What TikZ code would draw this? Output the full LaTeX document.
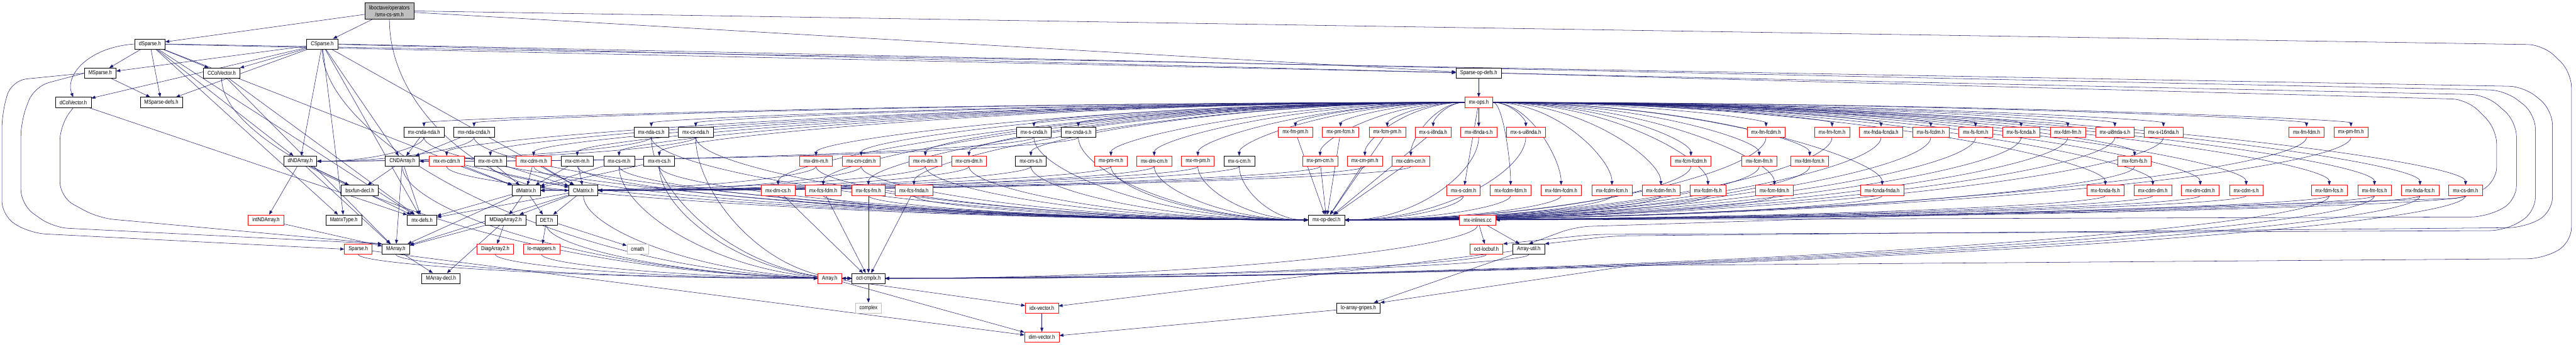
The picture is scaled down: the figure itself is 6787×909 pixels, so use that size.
\documentclass[tikz,border=0pt]{standalone}
\usepackage{fontspec}
\setmainfont[FakeStretch=0.85]{Liberation Sans}
\usetikzlibrary{arrows.meta, calc}
\definecolor{edgeblue}{RGB}{25,25,112}
\definecolor{boxgray}{RGB}{191,191,191}
\pgfdeclarelayer{edges}
\pgfsetlayers{edges,main}

\begin{document}
\begin{tikzpicture}[x=0.02cm, y=-0.02cm,
  hdr/.style={draw=black, line width=0.6pt, fill=white, minimum height=0.54cm,
              inner xsep=0.22cm, inner ysep=0pt, font=\fontsize{8.5}{10}\selectfont},
  trunc/.style={hdr, draw=red},
  sys/.style={hdr, draw=boxgray},
  top/.style={hdr, fill=boxgray, align=center, minimum height=0.88cm},
  dep/.style={-{Triangle[length=6pt,width=4.6pt]}, color=edgeblue, line width=0.5pt},
  detour/.style={dep, rounded corners=0.8cm}
]
  \useasboundingbox (0,0) rectangle (6787,909);

  \node[top] (root) at (1026,29) {liboctave/operators\\/smx-cs-sm.h};

  % fully expanded headers
  \foreach \n/\x/\y/\t in {dSparse/395/116/dSparse.h, CSparse/849/116/CSparse.h,
      MSparse/264/193/MSparse.h, CColVec/584/193/CColVector.h,
      SpOpDefs/3896/193/Sparse-op-defs.h, dColVec/193/270/dColVector.h,
      MSpDefs/425/270/MSparse-defs.h,
      cndanda/1117/348/mx-cnda-nda.h, ndacnda/1249/348/mx-nda-cnda.h,
      ndacs/1716/348/mx-nda-cs.h, csnda/1833/348/mx-cs-nda.h,
      scnda/2724/348/mx-s-cnda.h, cndas/2841/348/mx-cnda-s.h,
      dNDA/791/425/dNDArray.h, CNDA/1060/425/CNDArray.h,
      mcm/1292/425/mx-m-cm.h, cmm/1521/425/mx-cm-m.h, csm/1631/425/mx-cs-m.h,
      mcs/1737/425/mx-m-cs.h, cms/2716/425/mx-cm-s.h, scm/3265/425/mx-s-cm.h,
      bsxfun/948/502/bsxfun-decl.h, dMat/1386/502/dMatrix.h, CMat/1537/502/CMatrix.h,
      MatType/906/580/MatrixType.h, mxdefs/1112/580/mx-defs.h,
      MDiag2/1332/580/MDiagArray2.h, DET/1440/580/DET.h, opdecl/3495/580/mx-op-decl.h,
      MArray/1043/657/MArray.h, ArrUtil/4028/657/Array-util.h,
      MArrDecl/1162/734/MArray-decl.h, cmplx/2288/734/oct-cmplx.h,
      gripes/3579/812/lo-array-gripes.h}
    \node[hdr] (\n) at (\x,\y) {\t};

  % truncated headers
  \foreach \n/\x/\y/\t in {mxops/3896/270/mx-ops.h,
      fmpm/3413/348/mx-fm-pm.h, pmfcm/3532/348/mx-pm-fcm.h, fcmpm/3655/348/mx-fcm-pm.h,
      si8nda/3776/348/mx-s-i8nda.h, i8ndas/3896/348/mx-i8nda-s.h,
      sui8nda/4020/348/mx-s-ui8nda.h, fmfcdm/4653/348/mx-fm-fcdm.h,
      fmfcm/4827/348/mx-fm-fcm.h, fndafcnda/4956/348/mx-fnda-fcnda.h,
      fsfcdm/5087/348/mx-fs-fcdm.h, fsfcm/5205/348/mx-fs-fcm.h,
      fsfcnda/5325/348/mx-fs-fcnda.h, fdmfm/5448/348/mx-fdm-fm.h,
      ui8ndas/5572/348/mx-ui8nda-s.h, si16nda/5700/348/mx-s-i16nda.h,
      fmfdm/6077/348/mx-fm-fdm.h, pmfm/6194/348/mx-pm-fm.h,
      mcdm/1177/425/mx-m-cdm.h, cdmm/1406/425/mx-cdm-m.h, dmm/2150/425/mx-dm-m.h,
      cmcdm/2269/425/mx-cm-cdm.h, mdm/2438/425/mx-m-dm.h, cmdm/2553/425/mx-cm-dm.h,
      pmm/2927/425/mx-pm-m.h, dmcm/3041/425/mx-dm-cm.h, mpm/3156/425/mx-m-pm.h,
      pmcm/3478/425/mx-pm-cm.h, cmpm/3596/425/mx-cm-pm.h, cdmcm/3717/425/mx-cdm-cm.h,
      fcmfcdm/4455/425/mx-fcm-fcdm.h, fcmfm/4635/425/mx-fcm-fm.h,
      fdmfcm/4768/425/mx-fdm-fcm.h, fcmfs/5624/425/mx-fcm-fs.h,
      dmcs/2050/502/mx-dm-cs.h, fcsfdm/2169/502/mx-fcs-fdm.h, fcsfm/2288/502/mx-fcs-fm.h,
      fcsfnda/2408/502/mx-fcs-fnda.h, scdm/3856/502/mx-s-cdm.h,
      fcdmfdm/3980/502/mx-fcdm-fdm.h, fdmfcdm/4113/502/mx-fdm-fcdm.h,
      fcdmfcm/4247/502/mx-fcdm-fcm.h, fcdmfm/4376/502/mx-fcdm-fm.h,
      fcdmfs/4500/502/mx-fcdm-fs.h, fcmfdm/4675/502/mx-fcm-fdm.h,
      fcndafnda/4959/502/mx-fcnda-fnda.h, fcndafs/5547/502/mx-fcnda-fs.h,
      cdmdm/5672/502/mx-cdm-dm.h, dmcdm/5797/502/mx-dm-cdm.h, cdms/5918/502/mx-cdm-s.h,
      fdmfcs/6137/502/mx-fdm-fcs.h, fmfcs/6256/502/mx-fm-fcs.h,
      fndafcs/6376/502/mx-fnda-fcs.h, csdm/6496/502/mx-cs-dm.h,
      intNDA/701/580/intNDArray.h, inlines/3893/580/mx-inlines.cc,
      Sparse/944/657/Sparse.h, Diag2/1305/657/DiagArray2.h, lomap/1427/657/lo-mappers.h,
      locbuf/3916/657/oct-locbuf.h, Array/2186/734/Array.h,
      idxvec/2745/812/idx-vector.h, dimvec/2745/889/dim-vector.h}
    \node[trunc] (\n) at (\x,\y) {\t};

  % system headers
  \node[sys] (cmath) at (1680,657) {cmath};
  \node[sys] (complex) at (2288,812) {complex};

  \begin{pgfonlayer}{edges}
  % mx-ops.h fans out to every operator header
  \foreach \n in {cndanda,ndacnda,ndacs,csnda,scnda,cndas,fmpm,pmfcm,fcmpm,si8nda,
      mcdm,mcm,cdmm,cmm,csm,mcs,dmm,cmcdm,mdm,cmdm,cms,pmm,dmcm,mpm,scm,pmcm,cmpm,
      cdmcm,dmcs,fcsfdm,fcsfm,fcsfnda}
    \draw[dep] (mxops.west) .. controls ($(mxops.west)!0.55!(mxops.west -| \n.north)$)
      and ($(\n.north)!0.3!(\n.north |- mxops.west)$) .. (\n.north);
  \foreach \n in {sui8nda,fmfcdm,fmfcm,fndafcnda,fsfcdm,fsfcm,fsfcnda,fdmfm,ui8ndas,
      si16nda,fmfdm,pmfm,fcmfcdm,fcmfm,fdmfcm,fcmfs,fcdmfdm,fdmfcdm,fcdmfcm,fcdmfm,
      fcdmfs,fcmfdm,fcndafnda,fcndafs,cdmdm,dmcdm,cdms,fdmfcs,fmfcs,fndafcs,csdm}
    \draw[dep] (mxops.east) .. controls ($(mxops.east)!0.55!(mxops.east -| \n.north)$)
      and ($(\n.north)!0.3!(\n.north |- mxops.east)$) .. (\n.north);
  \foreach \n in {i8ndas,scdm}
    \draw[dep] (mxops) -- (\n);

  % every operator header pulls in mx-op-decl.h
  \foreach \n in {cndanda,ndacnda,ndacs,csnda,scnda,cndas,mcdm,mcm,cdmm,cmm,csm,mcs,
      dmm,cmcdm,mdm,cmdm,cms,pmm,dmcm,mpm,scm,dmcs,fcsfdm,fcsfm,fcsfnda}
    \draw[dep] (\n.south) .. controls ($(\n.south)!0.4!(\n.south |- opdecl.west)$)
      and ($(opdecl.west)!0.55!(opdecl.west -| \n.south)$) .. (opdecl.west);
  \foreach \n in {i8ndas,sui8nda,fmfcdm,fmfcm,fndafcnda,fsfcdm,fsfcm,fsfcnda,fdmfm,
      ui8ndas,si16nda,fmfdm,pmfm,fcmfcdm,fcmfm,fdmfcm,fcmfs,scdm,fcdmfdm,fdmfcdm,
      fcdmfcm,fcdmfm,fcdmfs,fcmfdm,fcndafnda,fcndafs,cdmdm,dmcdm,cdms,fdmfcs,fmfcs,
      fndafcs,csdm}
    \draw[dep] (\n.south) .. controls ($(\n.south)!0.4!(\n.south |- opdecl.east)$)
      and ($(opdecl.east)!0.55!(opdecl.east -| \n.south)$) .. (opdecl.east);

  % plain includes
  \foreach \a/\b in {root/dSparse, root/CSparse, root/SpOpDefs,
      dSparse/MSparse, dSparse/MSpDefs, dSparse/CColVec, dSparse/dNDA, dSparse/dMat,
      dSparse/MatType, dSparse/mxdefs, dSparse/SpOpDefs,
      CSparse/MSparse, CSparse/MSpDefs, CSparse/CColVec, CSparse/dColVec, CSparse/dNDA,
      CSparse/CNDA, CSparse/MatType, CSparse/mxdefs, CSparse/CMat, CSparse/SpOpDefs,
      MSparse/MSpDefs, dColVec/mxdefs, CColVec/MArray, CColVec/mxdefs,
      dNDA/intNDA, dNDA/bsxfun, dNDA/MArray, dNDA/mxdefs,
      CNDA/bsxfun, CNDA/MArray, CNDA/mxdefs,
      dMat/MDiag2, dMat/DET, dMat/mxdefs, dMat/MArray,
      CMat/MDiag2, CMat/DET, CMat/mxdefs, CMat/MArray,
      MDiag2/Diag2, MDiag2/MArrDecl, MDiag2/MArray, DET/lomap, DET/cmath,
      intNDA/MArray, MArray/MArrDecl, Sparse/dimvec, cmplx/complex,
      Array/idxvec, Array/dimvec, idxvec/dimvec,
      SpOpDefs/mxops, inlines/locbuf, inlines/ArrUtil, ArrUtil/gripes,
      ArrUtil/idxvec, gripes/dimvec,
      mcdm/dMat, mcm/dMat, cdmm/dMat, cmm/dMat, csm/dMat, mcs/dMat,
      mcdm/CMat, mcm/CMat, cdmm/CMat, cmm/CMat, cndanda/CNDA, ndacnda/CNDA,
      fcsfm/cmplx, fcsfnda/cmplx, fcsfdm/cmplx, dmcs/cmplx,
      fmpm/opdecl, pmfcm/opdecl, fcmpm/opdecl, pmcm/opdecl, cmpm/opdecl,
      cdmcm/opdecl, si8nda/opdecl}
    \draw[dep] (\a) -- (\b);

  % includes that enter a header from its right side
  \foreach \a/\b in {dmm/dMat, mdm/dMat, pmm/dMat, mpm/dMat,
      cmcdm/CMat, cmdm/CMat, cms/CMat, dmcm/CMat, scm/CMat, pmcm/CMat, cmpm/CMat,
      cdmcm/CMat, cndanda/dNDA, ndacnda/dNDA, ndacs/dNDA, csnda/dNDA,
      scnda/CNDA, cndas/CNDA, csdm/cmplx, fdmfcs/cmplx, fmfcs/cmplx, fndafcs/cmplx,
      inlines/cmplx, ArrUtil/Array, locbuf/Array}
    \draw[dep] (\a.south) .. controls ($(\a.south)!0.4!(\a.south |- \b.east)$)
      and ($(\b.east)!0.55!(\b.east -| \a.south)$) .. (\b.east);

  % includes that enter a header from its left side
  \foreach \a/\b in {csm/cmplx, mcs/cmplx, ndacs/cmplx, csnda/cmplx, CMat/cmplx,
      DET/cmplx, lomap/cmplx, CNDA/cmplx, CColVec/cmplx, CSparse/cmplx,
      Sparse/Array, MArray/Array, Diag2/Array}
    \draw[dep] (\a.south) .. controls ($(\a.south)!0.4!(\a.south |- \b.west)$)
      and ($(\b.west)!0.55!(\b.west -| \a.south)$) .. (\b.west);

  \draw[dep] (dSparse.west) .. controls (230,125) and (170,200) .. (dColVec.north);
  \draw[dep] (root.south) .. controls (1026,300) and (1300,502) .. (CMat.west);

  % long detours round the left and right edges
  \draw[detour] (MSparse.west) -- (30,212) -- (5,300) -- (5,570) -- (80,615) -- (Sparse.west);
  \draw[detour] (MSparse.west) -- (90,228) -- (55,320) -- (55,540) -- (140,600) -- (MArray.north west);
  \draw[detour] (dColVec.south) -- (158,330) -- (158,520) -- (260,575) -- (MArray.north west);
  \draw[detour] (root.east) -- (6700,118) -- (6775,190) -- (6775,640) -- (6700,682)
    -- (4300,700) -- (gripes.north east);
  \draw[detour] (dSparse.east) -- (6650,228) -- (6725,290) -- (6725,560) -- (6650,600)
    -- (4250,622) -- (ArrUtil.north east);
  \draw[detour] (CSparse.east) -- (6600,238) -- (6680,300) -- (6680,560) -- (6600,608)
    -- (4200,618) -- (locbuf.north east);
  \draw[detour] (SpOpDefs.east) -- (6550,250) -- (6630,320) -- (6630,530) -- (6550,572)
    -- (inlines.east);
  \draw[detour] (SpOpDefs.east) -- (6500,262) -- (6578,340) -- (6578,480) -- (6500,522)
    -- (4150,598) -- (ArrUtil.north);
  \end{pgfonlayer}
\end{tikzpicture}
\end{document}
